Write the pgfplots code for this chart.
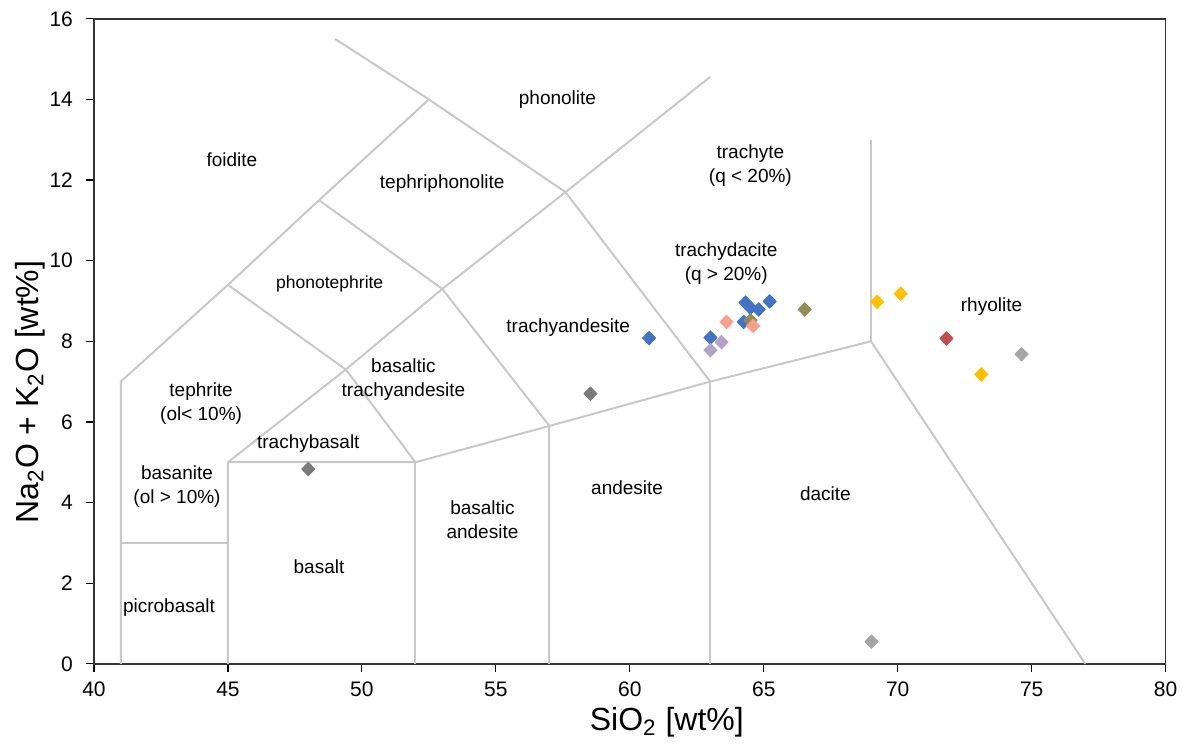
\documentclass[border=0pt]{standalone}
\usepackage{pgfplots}
\pgfplotsset{compat=1.18}
\usepackage{fontspec}
\setmainfont{Liberation Sans}

\definecolor{field}{HTML}{C8C8C8}
\definecolor{sblue}{HTML}{4472C4}
\definecolor{ssalmon}{HTML}{F7A08A}
\definecolor{solive}{HTML}{948A54}
\definecolor{slav}{HTML}{B3A2C7}
\definecolor{syellow}{HTML}{FFC000}
\definecolor{sred}{HTML}{C0504D}
\definecolor{sgray}{HTML}{A5A5A5}
\definecolor{sdgray}{HTML}{7A7A7A}

\newcommand{\fieldfont}{\fontsize{9.5}{11}\selectfont}

\begin{document}
\begin{tikzpicture}
\begin{axis}[
  scale only axis,
  width=536pt, height=322.6pt,
  xmin=40, xmax=80, ymin=0, ymax=16,
  xtick={40,45,...,80}, ytick={0,2,...,16},
  tick align=outside, tick pos=left,
  major tick length=4pt,
  axis line style={black!80, line width=0.8pt},
  tick style={black, line width=0.6pt},
  /pgf/number format/assume math mode=true,
  ticklabel style={font=\fontsize{10.5}{12}\selectfont},
  yticklabel style={xshift=-3pt},
  xticklabel style={yshift=-1.5pt},
  xlabel={SiO\textsubscript{2} [wt\%]},
  ylabel={Na\textsubscript{2}O + K\textsubscript{2}O [wt\%]},
  label style={font=\fontsize{16}{18}\selectfont},
  xlabel style={at={(axis description cs:0.5345,0)}, anchor=center, yshift=-29pt},
  ylabel style={at={(axis description cs:0,0.4215)}, anchor=center, yshift=32pt},
  clip=false,
  every axis plot/.append style={line join=round},
]
% TAS field boundaries
\pgfplotsset{fieldline/.style={color=field, line width=1pt, mark=none, forget plot}}
\addplot[fieldline] coordinates {(41,0) (41,7) (45,9.4) (48.4,11.5) (52.5,14) (57.6,11.7) (63,14.56)};
\addplot[fieldline] coordinates {(49,15.5) (52.5,14)};
\addplot[fieldline] coordinates {(41,3) (45,3)};
\addplot[fieldline] coordinates {(45,0) (45,5) (49.4,7.3) (53,9.3) (57.6,11.7)};
\addplot[fieldline] coordinates {(45,5) (52,5) (57,5.9) (63,7) (69,8) (77,0)};
\addplot[fieldline] coordinates {(52,0) (52,5)};
\addplot[fieldline] coordinates {(57,0) (57,5.9)};
\addplot[fieldline] coordinates {(63,0) (63,7)};
\addplot[fieldline] coordinates {(69,8) (69,13)};
\addplot[fieldline] coordinates {(49.4,7.3) (52,5)};
\addplot[fieldline] coordinates {(45,9.4) (49.4,7.3)};
\addplot[fieldline] coordinates {(48.4,11.5) (53,9.3) (57,5.9)};
\addplot[fieldline] coordinates {(57.6,11.7) (63,7)};

% field names
\begin{scope}[every node/.style={font=\fieldfont, align=center, inner sep=0pt}]
\node at (axis cs:45.15,12.5) {foidite};
\node at (axis cs:57.3,14.0) {phonolite};
\node at (axis cs:53.0,11.9) {tephriphonolite};
\node at (axis cs:64.5,12.35) {trachyte\\[1pt](q < 20\%)};
\node at (axis cs:63.6,9.93) {trachydacite\\[1pt](q > 20\%)};
\node[font=\fontsize{8.75}{10}\selectfont] at (axis cs:48.8,9.42) {phonotephrite};
\node at (axis cs:57.7,8.35) {trachyandesite};
\node at (axis cs:51.55,7.05) {basaltic\\[1pt]trachyandesite};
\node at (axis cs:44.0,6.45) {tephrite\\[1pt](ol< 10\%)};
\node at (axis cs:43.1,4.4) {basanite\\[1pt](ol > 10\%)};
\node at (axis cs:48.0,5.47) {trachybasalt};
\node at (axis cs:73.5,8.85) {rhyolite};
\node at (axis cs:59.9,4.37) {andesite};
\node at (axis cs:67.3,4.22) {dacite};
\node at (axis cs:54.5,3.58) {basaltic\\[1pt]andesite};
\node at (axis cs:48.4,2.41) {basalt};
\node at (axis cs:42.8,1.39) {picrobasalt};
\end{scope}

% samples
\pgfplotsset{sample/.style={only marks, color=#1, mark=diamond*, mark size=3.4pt, mark options={solid, draw=none, fill=#1, xscale=1.3}}}
\addplot[sample=sblue] coordinates {(60.72,8.08) (64.32,8.96) (64.50,8.83) (64.81,8.79) (65.22,8.99) (64.25,8.48) (63.01,8.09)};
\addplot[sample=solive] coordinates {(64.50,8.52) (66.53,8.79)};
\addplot[sample=ssalmon] coordinates {(63.61,8.48) (64.60,8.38)};
\addplot[sample=slav] coordinates {(63.42,7.98) (63.01,7.78)};
\addplot[sample=syellow] coordinates {(69.23,8.98) (70.11,9.18) (73.12,7.18)};
\addplot[sample=sred] coordinates {(71.82,8.07)};
\addplot[sample=sgray] coordinates {(74.62,7.68) (69.02,0.55)};
\addplot[sample=sdgray] coordinates {(48.0,4.83) (58.53,6.70)};
\end{axis}
\useasboundingbox (-47pt,-40pt) rectangle (545pt,332pt);
\end{tikzpicture}
\end{document}
